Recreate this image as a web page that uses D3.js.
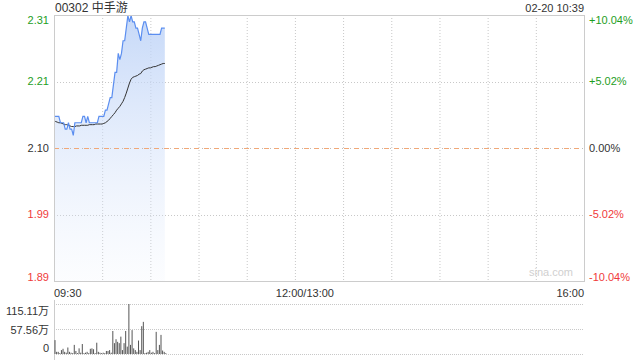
<!DOCTYPE html>
<html>
<head>
<meta charset="utf-8">
<script src="https://cdn.jsdelivr.net/npm/d3@7"></script>
<style>
  html, body { margin: 0; padding: 0; background: #fff; }
  svg { display: block; font-family: "Liberation Sans", Arial, "Noto Sans CJK SC", sans-serif; }
</style>
</head>
<body>
<div id="chart"></div>
<script>
const stockTitle = "00302 中手游";
const stampText = "02-20 10:39";
const prevClose = 2.10;
const limitPct = 10.04;
const tickSteps = [-2, -1, 0, 1, 2];
const timeLabels = ["09:30", "12:00/13:00", "16:00"];
const totalMinutes = 330;

// one value per minute from 09:30
const prices = [
  2.15, 2.15, 2.15, 2.15, 2.14, 2.14, 2.14, 2.13, 2.13, 2.14,
  2.13, 2.13, 2.12, 2.14, 2.14, 2.14, 2.14, 2.14, 2.15, 2.15,
  2.14, 2.15, 2.14, 2.14, 2.14, 2.14, 2.14, 2.14, 2.15, 2.15,
  2.15, 2.15, 2.16, 2.16, 2.17, 2.18, 2.18, 2.20, 2.22, 2.22,
  2.25, 2.24, 2.25, 2.27, 2.27, 2.29, 2.31, 2.30, 2.31, 2.30,
  2.30, 2.29, 2.29, 2.28, 2.27, 2.29, 2.30, 2.30, 2.29, 2.28,
  2.28, 2.28, 2.28, 2.28, 2.28, 2.28, 2.28, 2.29, 2.29, 2.29
];

const avgPrices = [
  2.143, 2.142, 2.141, 2.140, 2.140, 2.139, 2.138, 2.137, 2.137, 2.136,
  2.135, 2.134, 2.134, 2.134, 2.135, 2.135, 2.135, 2.136, 2.136, 2.136,
  2.136, 2.136, 2.137, 2.137, 2.137, 2.137, 2.138, 2.138, 2.138, 2.138,
  2.138, 2.139, 2.140, 2.142, 2.144, 2.147, 2.150, 2.153, 2.156, 2.160,
  2.163, 2.166, 2.170, 2.174, 2.180, 2.187, 2.195, 2.203, 2.209, 2.212,
  2.213, 2.214, 2.215, 2.217, 2.218, 2.222, 2.224, 2.225, 2.226, 2.227,
  2.227, 2.228, 2.229, 2.229, 2.230, 2.231, 2.232, 2.233, 2.234, 2.234
];

// shares
const volumes = [
  320000, 50000, 50000, 20000, 90000, 120000, 50000, 30000, 150000, 50000,
  30000, 20000, 210000, 70000, 20000, 130000, 30000, 230000, 20000, 30000,
  50000, 20000, 120000, 130000, 110000, 20000, 260000, 50000, 30000, 20000,
  30000, 20000, 70000, 70000, 90000, 30000, 530000, 250000, 340000, 280000,
  250000, 400000, 90000, 250000, 530000, 170000, 1151100, 210000, 550000, 130000,
  90000, 50000, 310000, 90000, 640000, 740000, 20000, 30000, 50000, 90000,
  30000, 50000, 20000, 510000, 90000, 210000, 440000, 80000, 50000, 20000
];

const width = 640;
const height = 360;
const plotLeft = 54;
const plotRight = 584;
const priceTop = 15;
const priceBottom = 281;
const volTop = 304;
const volBottom = 354;

const green = "#1e9e1e";
const red = "#f03a3a";
const gridColor = "#c8c8c8";

const svg = d3
  .create("svg")
  .attr("viewBox", [0, 0, width, height])
  .attr("width", width)
  .attr("height", height);

const x = d3.scaleLinear().domain([0, totalMinutes]).range([plotLeft, plotRight]);

const y = d3
  .scaleLinear()
  .domain([prevClose * (1 - limitPct / 100), prevClose * (1 + limitPct / 100)])
  .range([priceBottom, priceTop]);

const maxVol = d3.max(volumes);
const yVol = d3.scaleLinear().domain([0, maxVol]).range([volBottom, volTop]);

const priceTicks = tickSteps.map((k) => ({
  k,
  value: prevClose * (1 + (k * limitPct) / 200),
  pct: (k * limitPct) / 2
}));

// title + timestamp
svg
  .append("text")
  .attr("x", plotLeft + 1)
  .attr("y", 12)
  .attr("font-size", 12)
  .attr("fill", "#333")
  .text(stockTitle);

svg
  .append("text")
  .attr("x", plotRight)
  .attr("y", 12)
  .attr("font-size", 11)
  .attr("text-anchor", "end")
  .attr("fill", "#333")
  .text(stampText);

// vertical grid every 30 minutes
svg
  .append("g")
  .selectAll("line")
  .data(d3.range(30, totalMinutes, 30))
  .join("line")
  .attr("x1", (d) => x(d) + 0.5)
  .attr("x2", (d) => x(d) + 0.5)
  .attr("y1", priceTop)
  .attr("y2", priceBottom)
  .attr("stroke", gridColor)
  .attr("stroke-dasharray", "1,2");

// horizontal grid
svg
  .append("g")
  .selectAll("line")
  .data(priceTicks.filter((d) => Math.abs(d.k) === 1))
  .join("line")
  .attr("x1", plotLeft)
  .attr("x2", plotRight)
  .attr("y1", (d) => Math.round(y(d.value)) + 0.5)
  .attr("y2", (d) => Math.round(y(d.value)) + 0.5)
  .attr("stroke", gridColor)
  .attr("stroke-dasharray", "1,2");

// fill under price
const grad = svg
  .append("defs")
  .append("linearGradient")
  .attr("id", "priceFill")
  .attr("x1", 0)
  .attr("x2", 0)
  .attr("y1", 0)
  .attr("y2", 1);
grad.append("stop").attr("offset", "0%").attr("stop-color", "#bcd2f7").attr("stop-opacity", 0.85);
grad.append("stop").attr("offset", "100%").attr("stop-color", "#dfe9fb").attr("stop-opacity", 0.1);

svg
  .append("path")
  .datum(prices)
  .attr("fill", "url(#priceFill)")
  .attr(
    "d",
    d3
      .area()
      .x((d, i) => x(i))
      .y0(priceBottom)
      .y1((d) => y(d))
  );

// prev close line
const closeY = Math.round(y(prevClose)) + 0.5;
svg
  .append("line")
  .attr("x1", plotLeft)
  .attr("x2", plotRight)
  .attr("y1", closeY)
  .attr("y2", closeY)
  .attr("stroke", "#bbb")
  .attr("stroke-dasharray", "1,3");
svg
  .append("line")
  .attr("x1", plotLeft)
  .attr("x2", plotRight)
  .attr("y1", closeY)
  .attr("y2", closeY)
  .attr("stroke", "#f0a878")
  .attr("stroke-dasharray", "5,5");

// average line
svg
  .append("path")
  .datum(avgPrices)
  .attr("fill", "none")
  .attr("stroke", "#333")
  .attr("stroke-width", 1)
  .attr(
    "d",
    d3
      .line()
      .x((d, i) => x(i))
      .y((d) => y(d))
  );

// price line
svg
  .append("path")
  .datum(prices)
  .attr("fill", "none")
  .attr("stroke", "#5b8ef0")
  .attr("stroke-width", 1.2)
  .attr(
    "d",
    d3
      .line()
      .x((d, i) => x(i))
      .y((d) => y(d))
  );

// frame
svg
  .append("rect")
  .attr("x", plotLeft + 0.5)
  .attr("y", priceTop + 0.5)
  .attr("width", plotRight - plotLeft)
  .attr("height", priceBottom - priceTop)
  .attr("fill", "none")
  .attr("stroke", "#ccc");

// watermark
svg
  .append("text")
  .attr("x", 573)
  .attr("y", 276)
  .attr("font-size", 11)
  .attr("text-anchor", "end")
  .attr("fill", "#d0d0d0")
  .text("sina.com");

// axis labels
const tickColor = (d) => (d.k > 0 ? green : d.k < 0 ? red : "#333");
const edgeShift = (d) => (d.k === 2 ? 5 : d.k === -2 ? -4 : 0);

svg
  .append("g")
  .selectAll("text")
  .data(priceTicks)
  .join("text")
  .attr("x", plotLeft - 5)
  .attr("y", (d) => y(d.value) + edgeShift(d))
  .attr("dy", "0.35em")
  .attr("text-anchor", "end")
  .attr("font-size", 11)
  .attr("fill", tickColor)
  .text((d) => d.value.toFixed(2));

svg
  .append("g")
  .selectAll("text")
  .data(priceTicks)
  .join("text")
  .attr("x", plotRight + 5)
  .attr("y", (d) => y(d.value) + edgeShift(d))
  .attr("dy", "0.35em")
  .attr("font-size", 11)
  .attr("fill", tickColor)
  .text((d) => (d.k > 0 ? "+" : "") + d.pct.toFixed(2) + "%");

// time labels
const timeAnchors = [
  { t: timeLabels[0], x: x(0), anchor: "start" },
  { t: timeLabels[1], x: x(150) + 10, anchor: "middle" },
  { t: timeLabels[2], x: x(totalMinutes), anchor: "end" }
];
svg
  .append("g")
  .selectAll("text")
  .data(timeAnchors)
  .join("text")
  .attr("x", (d) => d.x)
  .attr("y", 297)
  .attr("text-anchor", (d) => d.anchor)
  .attr("font-size", 11)
  .attr("fill", "#333")
  .text((d) => d.t);

// volume panel
const volTicks = [maxVol, maxVol / 2, 0];
svg
  .append("g")
  .selectAll("line")
  .data(volTicks)
  .join("line")
  .attr("x1", plotLeft)
  .attr("x2", plotRight)
  .attr("y1", (d) => Math.round(yVol(d)) + 0.5)
  .attr("y2", (d) => Math.round(yVol(d)) + 0.5)
  .attr("stroke", gridColor)
  .attr("stroke-dasharray", "1,1");

svg
  .append("line")
  .attr("x1", plotLeft + 0.5)
  .attr("x2", plotLeft + 0.5)
  .attr("y1", volTop - 4)
  .attr("y2", height)
  .attr("stroke", "#ccc");

svg
  .append("g")
  .selectAll("rect")
  .data(volumes)
  .join("rect")
  .attr("x", (d, i) => x(i) + 0.5)
  .attr("y", (d) => yVol(d))
  .attr("width", 1)
  .attr("height", (d) => volBottom - yVol(d))
  .attr("fill", "#555");

const volLabel = (v) => (v === 0 ? "0" : (Math.round(v / 100) / 100).toFixed(2) + "万");
svg
  .append("g")
  .selectAll("text")
  .data(volTicks)
  .join("text")
  .attr("x", plotLeft - 5)
  .attr("y", (d, i) => yVol(d) + (i === 0 ? 7 : i === 2 ? -6 : 1))
  .attr("dy", "0.35em")
  .attr("text-anchor", "end")
  .attr("font-size", 11)
  .attr("fill", "#333")
  .text(volLabel);

d3.select("#chart").append(() => svg.node());
</script>
</body>
</html>
